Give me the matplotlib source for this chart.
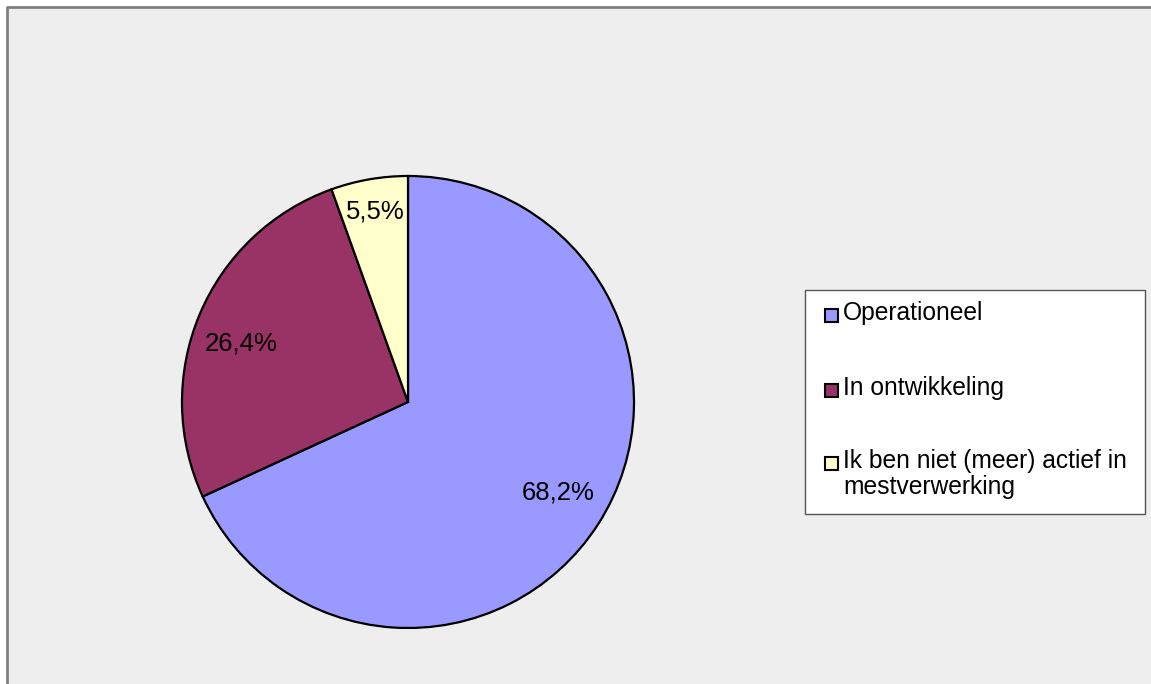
import matplotlib
matplotlib.use("Agg")
import matplotlib.pyplot as plt
import numpy as np
from matplotlib.lines import Line2D
from matplotlib.patches import Rectangle

plt.rcParams["font.family"] = ["Liberation Sans", "DejaVu Sans"]

labels = ["Operationeel", "In ontwikkeling", "Ik ben niet (meer) actief in\nmestverwerking"]
shares = [68.2, 26.4, 5.5]
colors = ["#9999FF", "#993366", "#FFFFCC"]

W, H = 1151, 684
fig = plt.figure(figsize=(W / 100, H / 100), dpi=100, facecolor="white")

# chart area: light grey panel, framed in grey on top and left
px, py = 7 / W, 1 - 7 / H
fig.patches.append(Rectangle((px, -0.1), 1.2, py + 0.1, transform=fig.transFigure,
                             facecolor="#EEEEEE", edgecolor="none", zorder=0))
fig.lines.append(Line2D([px, px, 1.1], [-0.1, py, py], transform=fig.transFigure,
                        color="#808080", linewidth=2, zorder=0.5))

cx, cy, r = 408, 402, 226
ax = fig.add_axes([(cx - r) / W, (H - cy - r) / H, 2 * r / W, 2 * r / H])
ax.set_zorder(2)
wedges, _ = ax.pie(shares, colors=colors, startangle=90, counterclock=False,
                   wedgeprops=dict(edgecolor="black", linewidth=1.6))
ax.set_xlim(-1, 1)
ax.set_ylim(-1, 1)
ax.set_aspect("equal")
ax.axis("off")

# percentage labels inside the slices (radius fraction, angle nudge in degrees)
label_dist = [0.775, 0.78, 0.855]
label_nudge = [1.5, 3.4, 0.0]
total = sum(shares)
start = 90.0
for val, d, nudge in zip(shares, label_dist, label_nudge):
    sweep = val / total * 360
    mid = np.deg2rad(start - sweep / 2 + nudge)
    ax.text(d * np.cos(mid), d * np.sin(mid), f"{val:.1f}%".replace(".", ","),
            ha="center", va="center", fontsize=18.5)
    start -= sweep

# legend box
lx0, ly0, lx1, ly1 = 805, 290, 1145, 514
fig.patches.append(Rectangle((lx0 / W, 1 - ly1 / H), (lx1 - lx0) / W, (ly1 - ly0) / H,
                             transform=fig.transFigure, facecolor="white",
                             edgecolor="#555555", linewidth=1, zorder=1))
row_y = [315, 390, 463]
for lab, col, y in zip(labels, colors, row_y):
    fig.patches.append(Rectangle((825 / W, 1 - (y + 6.5) / H), 13 / W, 13 / H,
                                 transform=fig.transFigure, facecolor=col,
                                 edgecolor="black", linewidth=1.5, zorder=2))
    fig.text(843 / W, 1 - (y - 14) / H, lab, ha="left", va="top", fontsize=17.7,
             linespacing=1.12, zorder=3)

fig.savefig("out.png", dpi=100, facecolor=fig.get_facecolor())
